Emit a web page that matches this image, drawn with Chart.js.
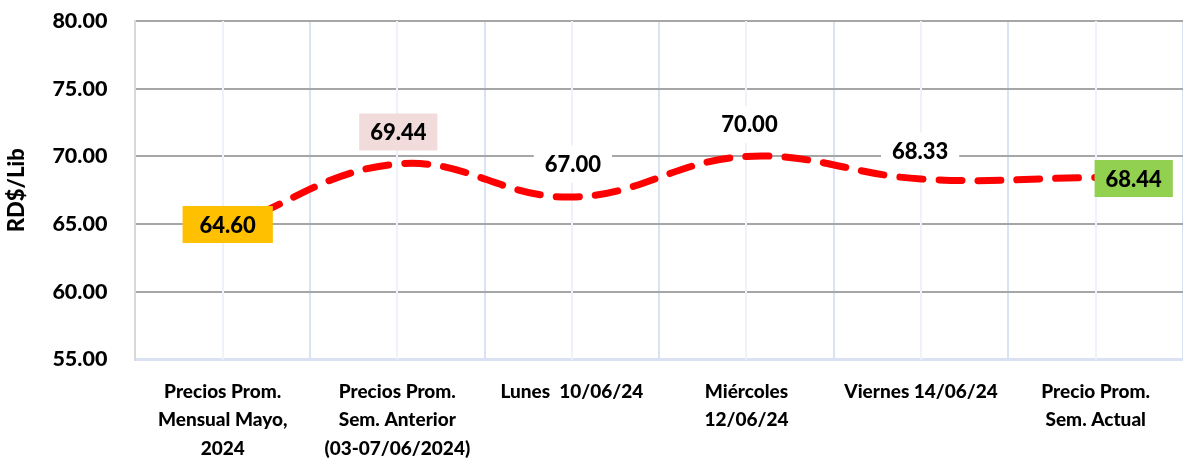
<!DOCTYPE html>
<html lang="es">
  <head>
    <meta charset="UTF-8" />
    <script src="https://cdn.jsdelivr.net/npm/chart.js"></script>
    <title>Precios</title>
    <style>
      html, body { margin: 0; padding: 0; background: #fff; }
      #wrap { width: 1183px; height: 462px; }
    </style>
  </head>
  <body>
    <div id="wrap"><canvas id="myChart"></canvas></div>
    <script>
      // datos
      const categories = [
        ["Precios Prom.", "Mensual Mayo,", "2024"],
        ["Precios Prom.", "Sem. Anterior", "(03-07/06/2024)"],
        "Lunes  10/06/24",
        ["Miércoles", "12/06/24"],
        "Viernes 14/06/24",
        ["Precio Prom.", "Sem. Actual"],
      ];
      const prices = [64.6, 69.44, 67.0, 70.0, 68.33, 68.44];
      const yTicks = { min: 55, max: 80, step: 5 };

      // estilo de etiquetas (no son datos)
      const labelBg = ["#FFC000", "#F2DCDB", "#FFFFFF", "#FFFFFF", "#FFFFFF", "#92D050"];
      const labelShift = [[5, -5], [1, -32], [1, -33], [3, -32], [-1, -28], [38, 1]];
      const labelPadX = [17, 11, 11, 11, 11, 11];

      const FONT = "Lato";
      const WEIGHT = "900";

      // lineas verticales tenues en el centro de cada categoria
      const centerGrid = {
        id: "centerGrid",
        beforeDatasetsDraw(chart) {
          const { ctx, chartArea, scales } = chart;
          ctx.save();
          ctx.strokeStyle = "#EEF3FA";
          ctx.lineWidth = 2;
          categories.forEach((c, i) => {
            const x = Math.round(scales.x.getPixelForValue(i));
            ctx.beginPath();
            ctx.moveTo(x, chartArea.top);
            ctx.lineTo(x, chartArea.bottom);
            ctx.stroke();
          });
          ctx.restore();
        },
      };

      const labelPlugin = {
        id: "boxLabels",
        afterDatasetsDraw(chart) {
          const ctx = chart.ctx;
          const meta = chart.getDatasetMeta(0);
          ctx.save();
          ctx.font = WEIGHT + " 22px " + FONT;
          ctx.textAlign = "center";
          ctx.textBaseline = "middle";
          meta.data.forEach((pt, i) => {
            const txt = prices[i].toFixed(2);
            const cx = pt.x + labelShift[i][0];
            const cy = pt.y + labelShift[i][1];
            const w = ctx.measureText(txt).width + labelPadX[i] * 2;
            const h = 37;
            ctx.fillStyle = labelBg[i];
            ctx.fillRect(cx - w / 2, cy - h / 2, w, h);
            ctx.fillStyle = "#000";
            ctx.fillText(txt, cx, cy + 1);
          });
          ctx.restore();
        },
      };

      const ctx = document.getElementById("myChart");
      new Chart(ctx, {
        type: "line",
        data: {
          labels: categories,
          datasets: [
            {
              data: prices,
              borderColor: "#FF0000",
              borderWidth: 7,
              borderDash: [23, 16],
              borderCapStyle: "round",
              tension: 0.4,
              pointRadius: 0,
              fill: false,
            },
          ],
        },
        options: {
          responsive: true,
          maintainAspectRatio: false,
          animation: false,
          layout: { padding: { top: 0, right: 0, left: 4, bottom: 0 } },
          plugins: { legend: { display: false }, tooltip: { enabled: false } },
          scales: {
            x: {
              offset: true,
              grid: { color: "#DAE3F3", lineWidth: 2, drawTicks: false, offset: true },
              border: { color: "#D9E1F2", width: 3 },
              afterFit: (s) => {
                s.height -= 19;
              },
              ticks: {
                color: "#000",
                padding: 18,
                maxRotation: 0,
                autoSkip: false,
                font: { family: FONT, size: 19, weight: WEIGHT, lineHeight: 1.5 },
              },
            },
            y: {
              min: yTicks.min,
              max: yTicks.max,
              grid: { color: "#A6A6A6", lineWidth: 2, drawTicks: false },
              border: { color: "#D9D9D9", width: 2 },
              afterFit: (s) => {
                // el padding de las etiquetas no debe empujar el area del grafico
                s.paddingTop = 21;
                s.paddingBottom = 12;
                s.width -= 12;
              },
              ticks: {
                stepSize: yTicks.step,
                color: "#000",
                padding: 28,
                font: { family: FONT, size: 21.5, weight: WEIGHT },
                callback: (v) => v.toFixed(2),
              },
              title: {
                display: true,
                text: "RD$/Lib",
                color: "#000",
                padding: { top: 0, bottom: 6 },
                font: { family: FONT, size: 22, weight: WEIGHT },
              },
            },
          },
        },
        plugins: [centerGrid, labelPlugin],
      });
    </script>
  </body>
</html>
